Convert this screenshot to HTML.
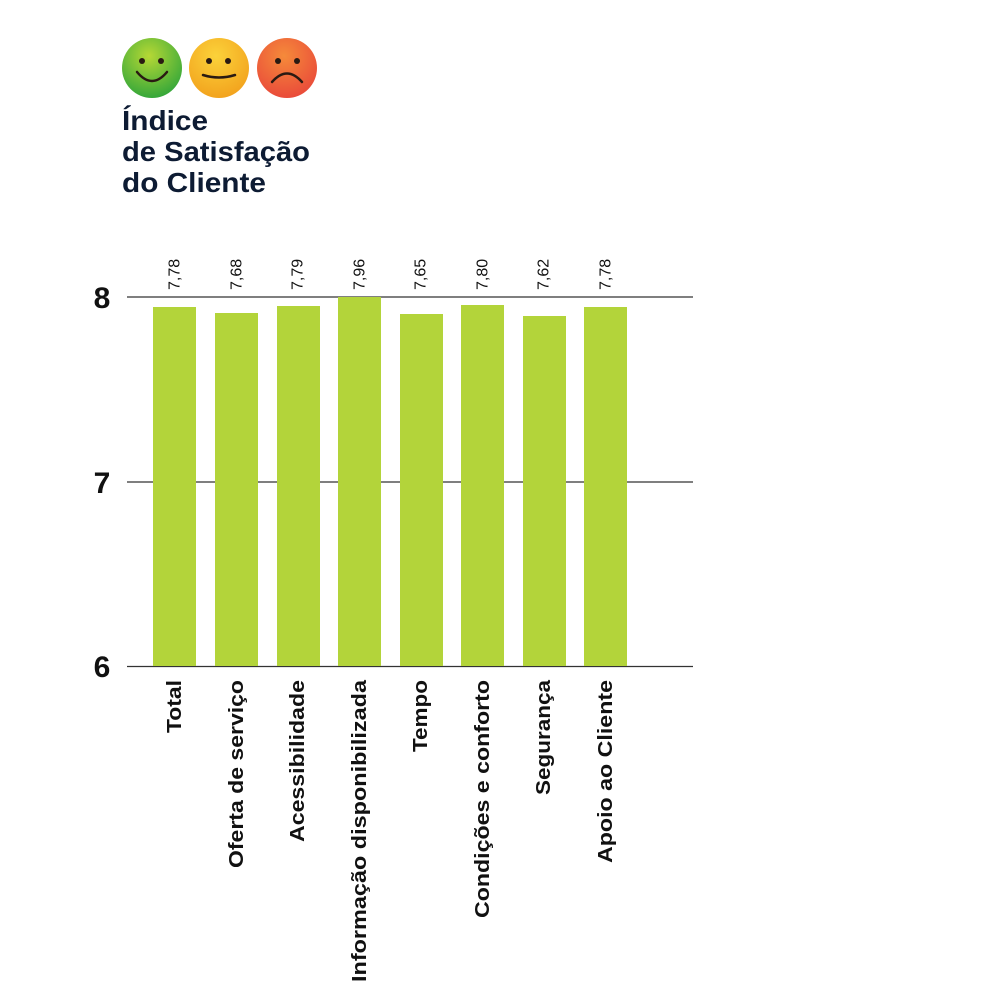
<!DOCTYPE html>
<html><head><meta charset="utf-8"><style>body{margin:0;background:#fff}</style></head><body>
<svg width="1001" height="1000" xmlns="http://www.w3.org/2000/svg" font-family="Liberation Sans, sans-serif">
<defs>
<radialGradient id="g1" cx="0.45" cy="0.3" r="0.75"><stop offset="0" stop-color="#b6d835"/><stop offset="1" stop-color="#2da43a"/></radialGradient>
<radialGradient id="g2" cx="0.45" cy="0.3" r="0.75"><stop offset="0" stop-color="#fbd23a"/><stop offset="1" stop-color="#f2a01c"/></radialGradient>
<radialGradient id="g3" cx="0.45" cy="0.3" r="0.75"><stop offset="0" stop-color="#f58a3a"/><stop offset="1" stop-color="#e9473a"/></radialGradient>
</defs>
<circle cx="152" cy="68" r="30" fill="url(#g1)"/>
<circle cx="219" cy="68" r="30" fill="url(#g2)"/>
<circle cx="287" cy="68" r="30" fill="url(#g3)"/>
<g fill="#2a1a12"><circle cx="142" cy="61" r="3"/><circle cx="161" cy="61" r="3"/><circle cx="209" cy="61" r="3"/><circle cx="228" cy="61" r="3"/><circle cx="278" cy="61" r="3"/><circle cx="297" cy="61" r="3"/></g>
<g fill="none" stroke="#2a1a12" stroke-width="2.5" stroke-linecap="round">
<path d="M137 72 Q152 90 167 72"/><path d="M203 75 Q219 80 235 75"/><path d="M272 82 Q287 65 302 82"/></g>
<g fill="#0d1b33" font-weight="bold" font-size="28">
<text x="122" y="130" textLength="86" lengthAdjust="spacingAndGlyphs">Índice</text><text x="122" y="161" textLength="188" lengthAdjust="spacingAndGlyphs">de Satisfação</text><text x="122" y="192" textLength="144" lengthAdjust="spacingAndGlyphs">do Cliente</text></g>
<g stroke="#333" stroke-width="1.2"><line x1="127" y1="297" x2="693" y2="297"/><line x1="127" y1="482" x2="693" y2="482"/><line x1="127" y1="666.5" x2="693" y2="666.5"/></g>
<g font-size="30" font-weight="bold" fill="#111" text-anchor="middle"><text x="102" y="308">8</text><text x="102" y="493">7</text><text x="102" y="677">6</text></g>
<g fill="#b3d43a">
<rect x="153" y="307" width="43" height="359"/><rect x="215" y="313" width="43" height="353"/><rect x="277" y="306" width="43" height="360"/><rect x="338" y="297" width="43" height="369"/><rect x="400" y="314" width="43" height="352"/><rect x="461" y="305" width="43" height="361"/><rect x="523" y="316" width="43" height="350"/><rect x="584" y="307" width="43" height="359"/></g>
<g font-size="16" fill="#111" text-anchor="start" dominant-baseline="central">
<text transform="translate(175,290) rotate(-90)">7,78</text>
<text transform="translate(237,290) rotate(-90)">7,68</text>
<text transform="translate(298,290) rotate(-90)">7,79</text>
<text transform="translate(360,290) rotate(-90)">7,96</text>
<text transform="translate(421,290) rotate(-90)">7,65</text>
<text transform="translate(483,290) rotate(-90)">7,80</text>
<text transform="translate(544,290) rotate(-90)">7,62</text>
<text transform="translate(606,290) rotate(-90)">7,78</text></g>
<g font-size="20" font-weight="bold" fill="#111" text-anchor="end" dominant-baseline="central">
<text transform="translate(175,680) rotate(-90)" textLength="53" lengthAdjust="spacingAndGlyphs">Total</text>
<text transform="translate(237,680) rotate(-90)" textLength="188" lengthAdjust="spacingAndGlyphs">Oferta de serviço</text>
<text transform="translate(298,680) rotate(-90)" textLength="162" lengthAdjust="spacingAndGlyphs">Acessibilidade</text>
<text transform="translate(360,680) rotate(-90)" textLength="302" lengthAdjust="spacingAndGlyphs">Informação disponibilizada</text>
<text transform="translate(421,680) rotate(-90)" textLength="72" lengthAdjust="spacingAndGlyphs">Tempo</text>
<text transform="translate(483,680) rotate(-90)" textLength="238" lengthAdjust="spacingAndGlyphs">Condições e conforto</text>
<text transform="translate(544,680) rotate(-90)" textLength="115" lengthAdjust="spacingAndGlyphs">Segurança</text>
<text transform="translate(606,680) rotate(-90)" textLength="183" lengthAdjust="spacingAndGlyphs">Apoio ao Cliente</text></g>
</svg>
</body></html>
